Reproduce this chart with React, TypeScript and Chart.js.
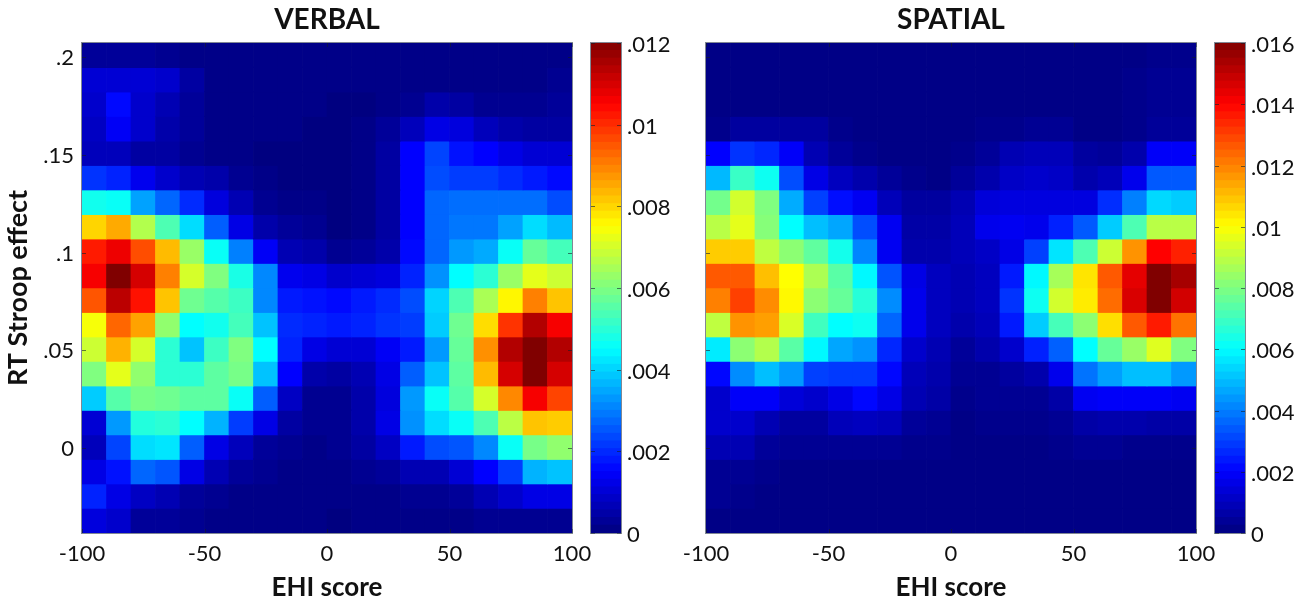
import React, { useEffect, useRef } from "react";
import { Chart, registerables } from "chart.js";

Chart.register(...registerables);

const ehiBins = [-95, -85, -75, -65, -55, -45, -35, -25, -15, -5, 5, 15, 25, 35, 45, 55, 65, 75, 85, 95];
const rtBins = [0.201, 0.1885, 0.176, 0.1634, 0.1509, 0.1384, 0.1258, 0.1133, 0.1008, 0.0883, 0.0757, 0.0632, 0.0507, 0.0381, 0.0256, 0.0131, 0.0005, -0.012, -0.0245, -0.0371];
const rtHalfBin = 0.00627;
const ehiTicks = [-100, -50, 0, 50, 100];
const rtTicks = [0, 0.05, 0.1, 0.15, 0.2];
const verbalBarTicks = [0, 0.002, 0.004, 0.006, 0.008, 0.01, 0.012];
const spatialBarTicks = [0, 0.002, 0.004, 0.006, 0.008, 0.01, 0.012, 0.014, 0.016];

// density, in units of .001, top row first
const verbalValues = [
  [0.3, 0.3, 0.3, 0.2, 0.1, 0.1, 0.1, 0.1, 0.1, 0.1, 0.1, 0.1, 0.1, 0.1, 0.1, 0.1, 0.1, 0.1, 0.1, 0.1],
  [1.0, 1.0, 1.0, 0.9, 0.4, 0.1, 0.1, 0.1, 0.1, 0.1, 0.1, 0.1, 0.1, 0.1, 0.1, 0.1, 0.1, 0.1, 0.1, 0.2],
  [0.9, 1.6, 0.9, 0.6, 0.3, 0.1, 0.1, 0.1, 0.1, 0.1, 0.0, 0.0, 0.1, 0.2, 0.5, 0.4, 0.2, 0.2, 0.2, 0.3],
  [0.8, 1.4, 0.9, 0.5, 0.3, 0.1, 0.1, 0.1, 0.1, 0.0, 0.0, 0.1, 0.3, 0.7, 1.2, 1.1, 0.7, 0.5, 0.4, 0.4],
  [0.7, 0.7, 0.4, 0.4, 0.2, 0.1, 0.1, 0.0, 0.0, 0.0, 0.0, 0.1, 0.4, 1.5, 2.3, 1.7, 1.5, 1.2, 1.0, 1.0],
  [2.1, 1.9, 1.3, 0.9, 0.6, 0.5, 0.2, 0.1, 0.0, 0.0, 0.0, 0.1, 0.4, 1.5, 2.4, 2.2, 2.2, 2.0, 1.8, 1.6],
  [4.7, 4.6, 3.4, 2.7, 2.0, 1.1, 0.6, 0.2, 0.1, 0.1, 0.0, 0.1, 0.4, 1.5, 2.7, 2.8, 2.8, 2.8, 2.8, 2.4],
  [8.0, 8.5, 6.6, 5.4, 4.1, 2.6, 1.2, 0.5, 0.3, 0.2, 0.0, 0.1, 0.4, 1.5, 2.7, 2.9, 2.9, 3.4, 4.1, 3.7],
  [10.2, 10.7, 9.6, 8.3, 6.3, 4.6, 3.0, 1.4, 0.6, 0.5, 0.2, 0.3, 0.5, 1.6, 2.7, 3.3, 3.5, 4.6, 5.7, 5.3],
  [10.6, 12.0, 11.0, 9.0, 7.0, 6.0, 4.8, 3.1, 1.3, 1.2, 0.9, 1.0, 1.1, 1.9, 3.2, 4.5, 5.0, 6.3, 7.2, 6.9],
  [9.5, 11.3, 10.3, 8.2, 5.8, 5.5, 5.2, 3.1, 1.8, 1.7, 1.6, 1.8, 2.0, 2.4, 4.0, 5.4, 6.5, 7.6, 9.0, 8.2],
  [7.4, 9.3, 8.6, 6.2, 4.5, 4.7, 5.3, 3.8, 2.0, 1.9, 1.8, 1.9, 2.1, 2.2, 3.9, 5.8, 7.9, 9.9, 11.4, 10.6],
  [6.9, 8.4, 7.0, 5.0, 3.8, 5.2, 6.0, 4.5, 1.9, 1.2, 1.0, 1.0, 1.4, 1.8, 3.3, 5.7, 8.8, 11.4, 12.0, 11.4],
  [6.0, 7.2, 6.2, 5.0, 5.0, 5.6, 5.9, 3.8, 1.5, 0.5, 0.4, 0.6, 1.2, 2.6, 3.8, 5.6, 8.3, 11.0, 12.0, 11.0],
  [3.9, 5.5, 5.9, 5.8, 5.6, 5.6, 4.6, 2.6, 0.8, 0.2, 0.2, 0.5, 1.1, 3.3, 4.6, 5.5, 7.0, 8.9, 10.6, 9.7],
  [1.0, 3.3, 4.9, 5.0, 4.5, 3.6, 2.2, 1.2, 0.4, 0.2, 0.2, 0.5, 1.2, 3.2, 4.1, 4.6, 5.4, 6.7, 8.2, 8.1],
  [0.7, 2.3, 4.1, 4.2, 2.6, 1.2, 0.7, 0.3, 0.2, 0.1, 0.2, 0.4, 0.8, 1.8, 2.4, 2.5, 3.1, 4.6, 5.9, 6.2],
  [1.2, 1.7, 2.7, 2.5, 1.2, 0.6, 0.3, 0.2, 0.1, 0.1, 0.1, 0.2, 0.3, 0.6, 0.6, 1.0, 1.5, 2.2, 3.6, 3.8],
  [1.9, 1.2, 0.8, 0.6, 0.3, 0.2, 0.1, 0.1, 0.1, 0.1, 0.1, 0.1, 0.1, 0.2, 0.2, 0.3, 0.6, 0.9, 1.2, 1.2],
  [1.1, 0.9, 0.3, 0.3, 0.2, 0.1, 0.1, 0.1, 0.1, 0.1, 0.0, 0.1, 0.1, 0.1, 0.1, 0.1, 0.2, 0.2, 0.2, 0.2],
];

const spatialValues = [
  [0.1, 0.1, 0.1, 0.1, 0.1, 0.1, 0.1, 0.1, 0.1, 0.1, 0.1, 0.1, 0.1, 0.1, 0.1, 0.1, 0.1, 0.1, 0.2, 0.2],
  [0.1, 0.1, 0.1, 0.1, 0.1, 0.1, 0.1, 0.1, 0.1, 0.1, 0.1, 0.1, 0.1, 0.1, 0.1, 0.1, 0.1, 0.2, 0.3, 0.3],
  [0.1, 0.1, 0.1, 0.1, 0.1, 0.1, 0.1, 0.1, 0.1, 0.1, 0.1, 0.1, 0.1, 0.1, 0.1, 0.1, 0.1, 0.2, 0.3, 0.3],
  [0.2, 0.5, 0.5, 0.5, 0.5, 0.2, 0.1, 0.1, 0.1, 0.1, 0.1, 0.2, 0.2, 0.3, 0.3, 0.1, 0.1, 0.2, 0.4, 0.4],
  [2.0, 2.8, 2.6, 1.9, 0.8, 0.4, 0.2, 0.1, 0.1, 0.1, 0.2, 0.4, 0.8, 0.9, 0.9, 0.5, 0.4, 0.7, 1.9, 1.9],
  [4.9, 6.9, 6.2, 3.2, 1.6, 1.0, 0.7, 0.4, 0.2, 0.1, 0.4, 0.7, 1.1, 1.2, 1.1, 0.7, 0.9, 1.7, 3.4, 3.4],
  [7.8, 9.3, 8.0, 4.7, 3.0, 2.2, 1.8, 0.9, 0.5, 0.5, 0.8, 1.4, 1.5, 1.5, 1.5, 1.5, 2.7, 4.0, 5.4, 5.2],
  [8.9, 9.6, 8.1, 6.0, 5.0, 4.6, 3.2, 1.8, 0.6, 0.6, 0.9, 1.7, 1.8, 1.7, 2.5, 3.4, 5.2, 7.2, 8.9, 8.9],
  [10.8, 10.8, 9.0, 8.2, 7.5, 6.3, 4.1, 1.8, 0.7, 0.7, 0.9, 1.1, 1.6, 3.0, 5.6, 7.2, 9.2, 11.7, 14.0, 13.5],
  [12.6, 12.6, 11.0, 10.0, 8.7, 7.4, 5.9, 3.3, 1.6, 1.0, 0.8, 1.0, 2.4, 5.9, 8.6, 10.4, 12.6, 14.4, 16.0, 15.4],
  [12.0, 13.0, 11.8, 10.1, 8.2, 7.6, 6.6, 4.2, 1.7, 1.0, 0.8, 1.0, 2.8, 6.2, 9.3, 10.3, 12.3, 14.6, 16.0, 14.7],
  [9.0, 11.7, 11.5, 9.4, 7.0, 6.0, 6.2, 3.6, 1.7, 1.0, 0.7, 0.9, 2.4, 5.2, 7.1, 8.2, 10.5, 12.6, 13.6, 12.2],
  [5.7, 8.2, 8.8, 7.4, 5.9, 4.6, 4.3, 2.6, 1.2, 0.8, 0.4, 0.7, 1.2, 2.5, 3.5, 6.0, 7.6, 8.4, 9.5, 8.0],
  [2.1, 4.2, 5.0, 4.4, 3.0, 2.9, 2.9, 2.1, 0.9, 0.7, 0.3, 0.3, 0.5, 0.7, 1.7, 3.8, 4.5, 5.0, 5.0, 4.4],
  [1.2, 1.9, 1.9, 1.4, 1.2, 1.6, 2.1, 1.6, 0.8, 0.6, 0.2, 0.3, 0.3, 0.3, 0.6, 1.8, 1.9, 1.9, 1.9, 1.8],
  [1.2, 1.2, 0.8, 0.5, 0.5, 0.9, 1.0, 0.9, 0.4, 0.3, 0.1, 0.2, 0.2, 0.2, 0.3, 0.6, 0.7, 0.7, 0.6, 0.6],
  [0.8, 0.8, 0.4, 0.3, 0.3, 0.3, 0.3, 0.3, 0.2, 0.2, 0.1, 0.1, 0.1, 0.1, 0.2, 0.3, 0.3, 0.2, 0.2, 0.2],
  [0.3, 0.3, 0.2, 0.1, 0.1, 0.1, 0.1, 0.1, 0.1, 0.1, 0.1, 0.1, 0.1, 0.1, 0.1, 0.1, 0.1, 0.1, 0.1, 0.1],
  [0.3, 0.2, 0.1, 0.1, 0.1, 0.1, 0.1, 0.1, 0.1, 0.1, 0.1, 0.1, 0.1, 0.1, 0.1, 0.1, 0.1, 0.1, 0.1, 0.1],
  [0.1, 0.1, 0.1, 0.1, 0.1, 0.1, 0.1, 0.1, 0.1, 0.1, 0.1, 0.1, 0.1, 0.1, 0.1, 0.1, 0.1, 0.1, 0.1, 0.1],
];

const FONT = "Lato, 'Open Sans', sans-serif";
const LEVELS = 64;

function jet(f: number): string {
  const c = (v: number) => Math.round(255 * Math.max(0, Math.min(1, v)));
  const r = c(Math.min(4 * f - 1.5, -4 * f + 4.5));
  const g = c(Math.min(4 * f - 0.5, -4 * f + 3.5));
  const b = c(Math.min(4 * f + 0.5, -4 * f + 2.5));
  return `rgb(${r},${g},${b})`;
}

function fmt(v: number): string {
  if (v === 0) return "0";
  return String(v).replace(/^(-?)0\./, "$1.");
}

const innerTicks = {
  id: "innerTicks",
  afterDatasetsDraw(chart: any) {
    const { ctx, chartArea: a, scales } = chart;
    ctx.save();
    ctx.strokeStyle = "rgba(20,30,40,0.6)";
    ctx.lineWidth = 1;
    const y = scales.y;
    y.ticks.forEach((t: any) => {
      const p = Math.round(y.getPixelForValue(t.value)) + 0.5;
      ctx.beginPath();
      ctx.moveTo(a.left, p);
      ctx.lineTo(a.left + 4, p);
      ctx.moveTo(a.right - 4, p);
      ctx.lineTo(a.right, p);
      ctx.stroke();
    });
    if (scales.x && scales.x.type === "linear") {
      scales.x.ticks.forEach((t: any) => {
        const p = Math.round(scales.x.getPixelForValue(t.value)) + 0.5;
        ctx.beginPath();
        ctx.moveTo(p, a.bottom);
        ctx.lineTo(p, a.bottom - 4);
        ctx.moveTo(p, a.top);
        ctx.lineTo(p, a.top + 4);
        ctx.stroke();
      });
    }
    ctx.strokeStyle = "rgba(60,70,90,0.65)";
    ctx.strokeRect(a.left - 0.5, a.top - 0.5, a.right - a.left + 1, a.bottom - a.top + 1);
    ctx.restore();
  },
};

function heatmapConfig(title: string, values: number[][], scaleMax: number, leftW: number, rightPad: number, showY: boolean): any {
  const datasets = values.map((row, r) => ({
    data: row.map(() => [rtBins[r] - rtHalfBin * 1.05, rtBins[r] + rtHalfBin * 1.05]),
    backgroundColor: row.map((v) => jet(v / scaleMax)),
    borderWidth: 0,
    barPercentage: 1.03,
    categoryPercentage: 1,
    grouped: false,
    xAxisID: "xCat",
    yAxisID: "y",
  }));
  return {
    type: "bar",
    data: { labels: ehiBins, datasets },
    plugins: [innerTicks],
    options: {
      animation: false,
      responsive: false,
      events: [],
      layout: { padding: { left: 0, right: rightPad, top: 0, bottom: 0 } },
      plugins: {
        legend: { display: false },
        tooltip: { enabled: false },
        title: {
          display: true,
          text: title,
          fullSize: false,
          color: "#111",
          font: { family: FONT, size: 28, weight: "bold", lineHeight: 1 },
          padding: { top: 6, bottom: 9 },
        },
      },
      scales: {
        xCat: { type: "category", display: false, position: "bottom" },
        x: {
          type: "linear",
          position: "bottom",
          min: -100,
          max: 100,
          offset: false,
          afterBuildTicks: (s: any) => {
            s.ticks = ehiTicks.map((value) => ({ value }));
          },
          afterFit: (s: any) => {
            s.height = 72;
          },
          grid: { display: false, drawTicks: false, offset: false },
          border: { display: false },
          ticks: {
            color: "#111",
            maxRotation: 0,
            autoSkip: false,
            padding: 8,
            font: { family: FONT, size: 22 },
            callback: (v: number) => String(v),
          },
          title: {
            display: true,
            text: "EHI score",
            color: "#111",
            font: { family: FONT, size: 26, weight: "bold", lineHeight: 1 },
            padding: { top: 0, bottom: 4 },
          },
        },
        y: {
          type: "linear",
          position: "left",
          min: -0.0435,
          max: 0.2072,
          afterBuildTicks: (s: any) => {
            s.ticks = rtTicks.map((value) => ({ value }));
          },
          afterFit: (s: any) => {
            s.width = leftW;
          },
          grid: { display: false, drawTicks: false },
          border: { display: false },
          ticks: {
            display: showY,
            color: "#111",
            padding: 8,
            autoSkip: false,
            labelOffset: 1,
            font: { family: FONT, size: 22 },
            callback: (v: number) => fmt(v),
          },
          title: {
            display: showY,
            text: "RT Stroop effect",
            color: "#111",
            font: { family: FONT, size: 27, weight: "bold", lineHeight: 1 },
            padding: { top: 5, bottom: 0 },
          },
        },
      },
    },
  };
}

function colorbarConfig(maxValue: number, tickValues: number[], rightW: number): any {
  const steps = Array.from({ length: LEVELS }, (_, i) => i);
  const datasets = steps.map((i) => ({
    data: [[(i / LEVELS) * maxValue, ((i + 1.04) / LEVELS) * maxValue]],
    backgroundColor: jet((i + 0.5) / LEVELS),
    borderWidth: 0,
    barPercentage: 1,
    categoryPercentage: 1,
    grouped: false,
  }));
  return {
    type: "bar",
    data: { labels: [""], datasets },
    plugins: [innerTicks],
    options: {
      animation: false,
      responsive: false,
      events: [],
      layout: { padding: { left: 6, right: 0, top: 43, bottom: 72 } },
      plugins: { legend: { display: false }, tooltip: { enabled: false } },
      scales: {
        x: { type: "category", display: false },
        y: {
          type: "linear",
          position: "right",
          min: 0,
          max: maxValue,
          afterBuildTicks: (s: any) => {
            s.ticks = tickValues.map((value) => ({ value }));
          },
          afterFit: (s: any) => {
            s.width = rightW;
          },
          grid: { display: false, drawTicks: false },
          border: { display: false },
          ticks: {
            color: "#111",
            padding: 6,
            autoSkip: false,
            labelOffset: 2,
            font: { family: FONT, size: 22 },
            callback: (v: number) => fmt(v),
          },
        },
      },
    },
  };
}

function Panel({ left, width, config }: { left: number; width: number; config: any }) {
  const ref = useRef<HTMLCanvasElement>(null);
  useEffect(() => {
    const chart = new Chart(ref.current as HTMLCanvasElement, config);
    return () => chart.destroy();
  }, []);
  return <canvas ref={ref} width={width} height={605} style={{ position: "absolute", left, top: 0, width, height: 605 }} />;
}

export default function App() {
  return (
    <div style={{ position: "absolute", left: 0, top: 0, width: 1300, height: 605, background: "#fff", overflow: "hidden" }}>
      <Panel left={0} width={610} config={heatmapConfig("VERBAL", verbalValues, 12, 82, 38, true)} />
      <Panel left={585} width={115} config={colorbarConfig(0.012, verbalBarTicks, 79)} />
      <Panel left={650} width={585} config={heatmapConfig("SPATIAL", spatialValues, 16, 56, 39, false)} />
      <Panel left={1209} width={91} config={colorbarConfig(0.016, spatialBarTicks, 55)} />
    </div>
  );
}
